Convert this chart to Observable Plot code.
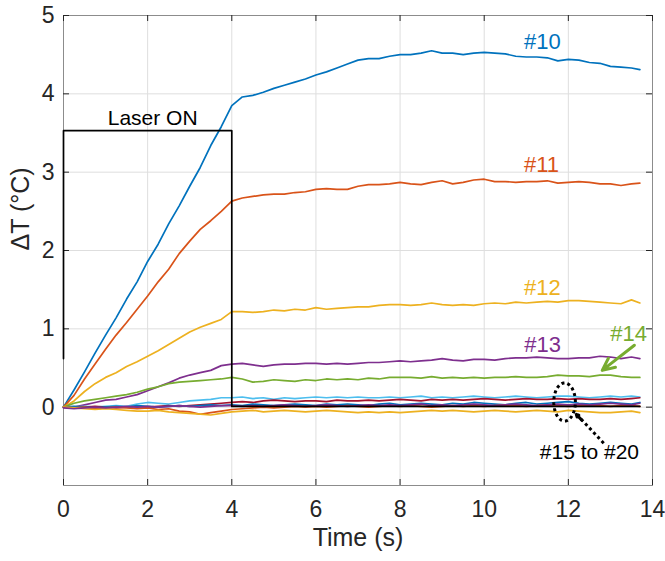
<!DOCTYPE html>
<html>
<head>
<meta charset="utf-8">
<script src="https://cdn.jsdelivr.net/npm/d3@7"></script>
<script src="https://cdn.jsdelivr.net/npm/@observablehq/plot@0.6"></script>
<style>
  html, body { margin: 0; padding: 0; background: #fff; }
  #chart { width: 665px; height: 561px; }
</style>
</head>
<body>
<div id="chart"></div>
<script>
// Sample times (s): 0.25 s steps to 13.5 s, last sample at 13.7 s
const time = [...d3.range(0, 13.51, 0.25), 13.7];

// Temperature rise ΔT (°C) for thermocouples #10 to #20
const s10 = [
  0, 0.22, 0.45, 0.69, 0.92, 1.14, 1.38, 1.6,
  1.86, 2.08, 2.34, 2.57, 2.82, 3.06, 3.34, 3.58,
  3.85, 3.96, 3.98, 4.02, 4.07, 4.11, 4.15, 4.19,
  4.24, 4.28, 4.33, 4.38, 4.43, 4.45, 4.45, 4.48,
  4.50, 4.50, 4.52, 4.55, 4.52, 4.52, 4.50, 4.52,
  4.53, 4.52, 4.51, 4.48, 4.47, 4.47, 4.46, 4.42,
  4.44, 4.43, 4.40, 4.39, 4.35, 4.34, 4.33, 4.31];
const s11 = [
  0, 0.15, 0.36, 0.55, 0.74, 0.92, 1.08, 1.25,
  1.42, 1.6, 1.76, 1.96, 2.12, 2.27, 2.38, 2.5,
  2.63, 2.67, 2.69, 2.71, 2.72, 2.72, 2.74, 2.75,
  2.78, 2.79, 2.78, 2.78, 2.82, 2.84, 2.84, 2.85,
  2.87, 2.85, 2.84, 2.87, 2.89, 2.85, 2.87, 2.90,
  2.91, 2.88, 2.88, 2.87, 2.88, 2.88, 2.89, 2.86,
  2.87, 2.88, 2.87, 2.85, 2.85, 2.83, 2.85, 2.86];
const s12 = [
  0, 0.08, 0.2, 0.3, 0.38, 0.44, 0.52, 0.58,
  0.65, 0.72, 0.8, 0.88, 0.96, 1.02, 1.07, 1.12,
  1.22, 1.22, 1.21, 1.22, 1.24, 1.23, 1.25, 1.24,
  1.27, 1.25, 1.26, 1.27, 1.28, 1.28, 1.30, 1.31,
  1.31, 1.30, 1.31, 1.33, 1.31, 1.30, 1.31, 1.30,
  1.32, 1.33, 1.32, 1.34, 1.33, 1.34, 1.35, 1.34,
  1.36, 1.36, 1.35, 1.34, 1.33, 1.32, 1.37, 1.33];
const s13 = [
  0, 0.0, 0.03, 0.06, 0.09, 0.1, 0.13, 0.16,
  0.21, 0.26, 0.31, 0.37, 0.41, 0.44, 0.47, 0.53,
  0.55, 0.56, 0.54, 0.52, 0.54, 0.55, 0.55, 0.56,
  0.56, 0.55, 0.56, 0.55, 0.56, 0.57, 0.57, 0.58,
  0.59, 0.58, 0.59, 0.60, 0.62, 0.60, 0.59, 0.61,
  0.61, 0.60, 0.62, 0.63, 0.63, 0.64, 0.63, 0.62,
  0.62, 0.63, 0.63, 0.65, 0.64, 0.62, 0.64, 0.62];
const s14 = [
  0, 0.05, 0.08, 0.1, 0.12, 0.14, 0.16, 0.19,
  0.23, 0.26, 0.3, 0.32, 0.33, 0.34, 0.35, 0.36,
  0.38, 0.36, 0.32, 0.33, 0.35, 0.34, 0.33, 0.35,
  0.34, 0.36, 0.35, 0.36, 0.35, 0.37, 0.36, 0.38,
  0.38, 0.38, 0.37, 0.39, 0.37, 0.38, 0.37, 0.38,
  0.37, 0.38, 0.38, 0.39, 0.38, 0.38, 0.39, 0.41,
  0.40, 0.40, 0.39, 0.41, 0.41, 0.39, 0.38, 0.38];
const s15 = [
  0, 0.0, 0.01, 0.0, 0.01, 0.02, 0.01, 0.04,
  0.06, 0.05, 0.04, 0.06, 0.08, 0.09, 0.10, 0.12,
  0.12, 0.13, 0.11, 0.12, 0.10, 0.12, 0.11, 0.12,
  0.13, 0.12, 0.13, 0.12, 0.13, 0.12, 0.12, 0.13,
  0.12, 0.13, 0.14, 0.12, 0.13, 0.12, 0.13, 0.14,
  0.13, 0.12, 0.13, 0.14, 0.13, 0.12, 0.13, 0.14,
  0.14, 0.13, 0.12, 0.13, 0.14, 0.13, 0.14, 0.13];
const s16 = [
  0, -0.01, 0.0, 0.01, 0.0, -0.01, 0.0, 0.01,
  0.0, 0.01, 0.02, 0.01, 0.02, 0.03, 0.04, 0.05,
  0.06, 0.07, 0.06, 0.08, 0.09, 0.08, 0.07, 0.08,
  0.08, 0.07, 0.09, 0.08, 0.08, 0.09, 0.08, 0.09,
  0.10, 0.09, 0.08, 0.10, 0.09, 0.10, 0.09, 0.10,
  0.11, 0.10, 0.09, 0.10, 0.11, 0.10, 0.10, 0.11,
  0.10, 0.11, 0.10, 0.10, 0.11, 0.10, 0.11, 0.12];
const s17 = [
  0, 0.01, 0.0, -0.01, 0.0, 0.01, 0.0, 0.02,
  0.01, 0.0, 0.01, 0.02, 0.01, 0.02, 0.03, 0.02,
  0.03, 0.02, 0.04, 0.03, 0.02, 0.03, 0.04, 0.03,
  0.02, 0.04, 0.03, 0.04, 0.03, 0.02, 0.04, 0.05,
  0.03, 0.04, 0.05, 0.04, 0.03, 0.05, 0.04, 0.06,
  0.05, 0.04, 0.03, 0.05, 0.06, 0.04, 0.05, 0.06,
  0.07, 0.05, 0.04, 0.05, 0.06, 0.05, 0.04, 0.06];
const s18 = [
  0, -0.01, 0.0, -0.02, -0.01, 0.0, -0.01, -0.02,
  -0.01, -0.03, -0.02, -0.05, -0.06, -0.09, -0.07, -0.05,
  -0.03, -0.02, -0.01, 0.0, -0.01, 0.0, 0.01, 0.0,
  0.01, 0.0, 0.01, 0.02, 0.01, 0.0, 0.01, 0.02,
  0.01, 0.02, 0.01, 0.0, 0.01, 0.02, 0.01, 0.02,
  0.01, 0.02, 0.03, 0.02, 0.01, 0.02, 0.03, 0.02,
  0.01, 0.02, 0.03, 0.02, 0.01, 0.02, 0.02, 0.01];
const s19 = [
  0, -0.01, -0.02, -0.03, -0.02, -0.03, -0.04, -0.05,
  -0.05, -0.04, -0.06, -0.07, -0.08, -0.09, -0.1, -0.08,
  -0.06, -0.05, -0.04, -0.06, -0.05, -0.04, -0.05, -0.06,
  -0.05, -0.04, -0.05, -0.06, -0.07, -0.06, -0.07, -0.06,
  -0.07, -0.06, -0.05, -0.04, -0.05, -0.04, -0.05, -0.06,
  -0.05, -0.04, -0.05, -0.06, -0.05, -0.04, -0.05, -0.06,
  -0.04, -0.05, -0.06, -0.07, -0.07, -0.06, -0.05, -0.07];
const s20 = [
  -0.01, -0.02, -0.01, 0.0, -0.01, 0.0, 0.01, 0.0,
  0.01, 0.0, 0.01, 0.02, 0.01, 0.0, 0.01, 0.02,
  0.02, 0.01, 0.02, 0.01, 0.02, 0.03, 0.02, 0.01,
  0.02, 0.03, 0.02, 0.01, 0.02, 0.03, 0.02, 0.03,
  0.02, 0.03, 0.04, 0.02, 0.03, 0.02, 0.03, 0.04,
  0.03, 0.02, 0.03, 0.04, 0.03, 0.02, 0.03, 0.04,
  0.03, 0.04, 0.03, 0.04, 0.05, 0.04, 0.03, 0.05];

const seriesNames = ["#10", "#11", "#12", "#13", "#14", "#15", "#16", "#17", "#18", "#19", "#20"];
const seriesValues = [s10, s11, s12, s13, s14, s15, s16, s17, s18, s19, s20];
const seriesColors = ["#0072BD", "#D95319", "#EDB120", "#7E2F8E", "#77AC30", "#4DBEEE",
                      "#A2142F", "#0072BD", "#D95319", "#EDB120", "#7E2F8E"];

// Laser on/off trace
const laserTime = [0, 0, 4, 4, 13.7];
const laserLevel = [0.62, 3.53, 3.53, 0.01, 0.01];

const xTicks = [0, 2, 4, 6, 8, 10, 12, 14];
const yTicks = [0, 1, 2, 3, 4, 5];

// Series labels
const labelNames = ["#10", "#11", "#12", "#13", "#14"];
const labelX = [11.38, 11.36, 11.38, 11.39, 13.43];
const labelY = [4.66, 3.09, 1.52, 0.80, 0.94];
const labelColors = ["#0072BD", "#D95319", "#EDB120", "#7E2F8E", "#77AC30"];

// Long-form table for the line marks
const rows = [];
seriesNames.forEach((name, k) => {
  seriesValues[k].forEach((v, i) => rows.push({name, t: time[i], dT: v, color: seriesColors[k]}));
});
const laser = laserTime.map((t, i) => ({t, dT: laserLevel[i]}));

// Dotted ellipse marking the group #15 to #20
const ring = {cx: 11.91, cy: 0.066, rx: 0.257, ry: 0.243};
const ringPts = d3.range(0, 2 * Math.PI + 0.01, Math.PI / 36)
  .map(a => ({t: ring.cx + ring.rx * Math.cos(a), dT: ring.cy + ring.ry * Math.sin(a)}));

const W = 665, H = 561, mT = 15, mR = 13, mB = 76, mL = 63;
const fw = W - mL - mR, fh = H - mT - mB, tick = 6;
const axisGray = "#262626";

const chart = Plot.plot({
  width: W, height: H,
  marginTop: mT, marginRight: mR, marginBottom: mB, marginLeft: mL,
  style: {fontFamily: "'Liberation Sans', Arial, sans-serif", background: "#fff", overflow: "visible"},
  x: {domain: [0, 14]},
  y: {domain: [-1, 5]},
  marks: [
    Plot.gridX(xTicks.slice(1, -1), {stroke: "#dedede", strokeOpacity: 1}),
    Plot.gridY(yTicks.slice(0, -1), {stroke: "#dedede", strokeOpacity: 1}),
    Plot.axisX(xTicks, {tickSize: 0, tickPadding: 15, fontSize: 23, label: null, color: axisGray, tickFormat: d => String(d)}),
    Plot.axisY(yTicks, {tickSize: 0, tickPadding: 9, fontSize: 23, label: null, color: axisGray, tickFormat: d => String(d)}),
    Plot.frame({stroke: "#8c8c8c", strokeWidth: 1}),
    // inward ticks on all four sides
    Plot.ruleY(yTicks, {y: d => d, insetRight: fw - tick, stroke: axisGray}),
    Plot.ruleY(yTicks, {y: d => d, insetLeft: fw - tick, stroke: axisGray}),
    Plot.ruleX(xTicks, {x: d => d, insetTop: fh - tick, stroke: axisGray}),
    Plot.ruleX(xTicks, {x: d => d, insetBottom: fh - tick, stroke: axisGray}),
    Plot.line(rows, {x: "t", y: "dT", z: "name", stroke: "color", strokeWidth: 1.7}),
    Plot.line(laser, {x: "t", y: "dT", stroke: "#000", strokeWidth: 1.7}),
    Plot.text(["Laser ON"], {x: 2.12, y: 3.69, fontSize: 21, fill: "#000"}),
    Plot.text(labelNames, {x: (d, i) => labelX[i], y: (d, i) => labelY[i], fill: (d, i) => labelColors[i], fontSize: 22}),
    Plot.text(["#15 to #20"], {x: 12.5, y: -0.58, fontSize: 21, fill: "#000"}),
    Plot.arrow([{x1: 13.57, y1: 0.79, x2: 12.805, y2: 0.47}],
      {x1: "x1", y1: "y1", x2: "x2", y2: "y2", stroke: "#77AC30", strokeWidth: 3, headLength: 13, headAngle: 50}),
    Plot.line(ringPts, {x: "t", y: "dT", stroke: "#000", strokeWidth: 3, strokeDasharray: "3,3", strokeLinecap: "butt"}),
    Plot.link([{x1: 12.84, y1: -0.46, x2: 12.28, y2: -0.14}],
      {x1: "x1", y1: "y1", x2: "x2", y2: "y2", stroke: "#000", strokeWidth: 3, strokeDasharray: "3,3", strokeLinecap: "butt"}),
    Plot.arrow([{x1: 12.32, y1: -0.165, x2: 12.19, y2: -0.093}],
      {x1: "x1", y1: "y1", x2: "x2", y2: "y2", stroke: "#000", strokeWidth: 3, headLength: 12, headAngle: 55}),
    Plot.text(["Time (s)"], {frameAnchor: "bottom", dy: 60, fontSize: 25, fill: axisGray}),
    Plot.text(["ΔT (°C)"], {frameAnchor: "left", dx: -43, rotate: -90, fontSize: 25, fill: axisGray})
  ]
});
document.getElementById("chart").appendChild(chart);
</script>
</body>
</html>
